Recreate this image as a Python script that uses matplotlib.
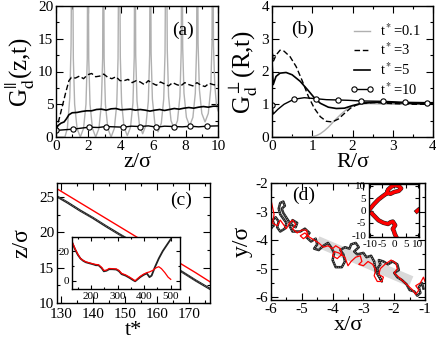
import numpy as np
import matplotlib
matplotlib.use('Agg')
import matplotlib.pyplot as plt
from matplotlib.ticker import MultipleLocator

plt.rcParams['font.family'] = ['Liberation Serif', 'DejaVu Serif']
plt.rcParams['mathtext.fontset'] = 'stix'
plt.rcParams['axes.unicode_minus'] = False

# ---- panel (a): G_d^par(z,t)
za_01 = [0.0, 0.55, 0.7, 0.85, 0.93, 1.0,
         1.07, 1.15, 1.3, 1.5, 1.7, 1.85, 1.93, 1.975,
         2.02, 2.1, 2.25, 2.45, 2.65, 2.8, 2.88, 2.925,
         2.97, 3.05, 3.2, 3.4, 3.6, 3.75, 3.83, 3.9,
         3.97, 4.05, 4.2, 4.4, 4.6, 4.75, 4.83, 4.875,
         4.92, 5.0, 5.15, 5.35, 5.55, 5.7, 5.78, 5.825,
         5.87, 5.95, 6.1, 6.3, 6.5, 6.65, 6.73, 6.8,
         6.87, 6.95, 7.1, 7.3, 7.5, 7.65, 7.73, 7.775,
         7.82, 7.9, 8.05, 8.25, 8.45, 8.6, 8.68, 8.725,
         8.77, 8.85, 9.0, 9.2, 9.4, 9.55, 9.63, 9.675,
         9.72, 9.8, 9.9, 10.0]
ga_01 = [0.0, 0.0, 1.3, 6.0, 14.0, 40,
         12, 5, 1.3, 0.0, 1.3, 5, 12, 40,
         12, 5, 1.3, 0.0, 1.3, 5, 12, 40,
         12, 5, 1.3, 0.0, 1.3, 5, 12, 40,
         12.2, 5.2, 1.5, 0.2, 1.5, 5.2, 12.2, 40,
         12.5, 5.5, 1.8, 0.5, 1.8, 5.5, 12.5, 40,
         12.8, 5.8, 2.1, 0.8, 2.1, 5.8, 12.8, 40,
         13.2, 6.2, 2.5, 1.2, 2.5, 6.2, 13.2, 40,
         13.7, 6.7, 3.0, 1.7, 3.0, 6.7, 13.7, 40,
         14.3, 7.3, 3.6, 2.3, 3.6, 7.3, 14.3, 40,
         14.0, 8.0, 5.0, 4.0]
za_3 = [0, 0.2, 0.4, 0.6, 0.8, 0.95, 1.2, 1.45, 1.7, 1.95, 2.2, 2.45, 2.7, 2.95,
        3.2, 3.45, 3.7, 3.95, 4.2, 4.45, 4.7, 4.95, 5.2, 5.45, 5.7, 5.95, 6.2,
        6.45, 6.7, 6.95, 7.2, 7.45, 7.7, 7.95, 8.2, 8.45, 8.7, 8.95, 9.2, 9.45,
        9.7, 10.0]
ga_3 = [1.0, 2.8, 4.8, 6.8, 8.6, 9.1, 9.0, 9.3, 8.9, 9.5, 9.7, 9.2, 9.3, 9.6,
        9.1, 8.9, 9.2, 8.6, 8.6, 8.8, 8.3, 8.6, 8.4, 8.0, 8.6, 8.2, 7.9,
        8.4, 8.1, 7.8, 8.3, 8.0, 7.8, 8.3, 8.0, 7.8, 8.3, 7.9, 7.7, 8.2,
        8.0, 7.9]
za_5 = [0, 0.15, 0.3, 0.5, 0.65, 0.8, 1.0, 1.3, 1.6, 1.9, 2.2, 2.5, 2.8, 3.1,
        3.4, 3.7, 4.0, 4.3, 4.6, 4.9, 5.2, 5.5, 5.8, 6.1, 6.4, 6.7, 7.0, 7.3,
        7.6, 7.9, 8.2, 8.5, 8.8, 9.1, 9.4, 9.7, 10.0]
ga_5 = [1.3, 1.8, 2.1, 2.3, 2.8, 3.4, 3.7, 3.75, 3.9, 4.0, 4.0, 4.2, 4.25, 4.1,
        4.3, 4.35, 4.15, 4.2, 4.25, 4.1, 4.2, 4.1, 3.95, 4.1, 4.2, 4.05, 4.2, 4.35,
        4.25, 4.4, 4.5, 4.4, 4.55, 4.65, 4.55, 4.7, 4.7]
za_10 = [0, 0.5, 1.07, 1.55, 2.05, 2.6, 3.1, 3.6, 4.15, 4.65, 5.18, 5.7, 6.2, 6.7,
         7.27, 7.8, 8.3, 8.8, 9.3, 10.0]
ga_10 = [1.0, 1.1, 1.2, 1.35, 1.5, 1.45, 1.6, 1.55, 1.5, 1.65, 1.6, 1.7, 1.5, 1.65,
         1.6, 1.55, 1.65, 1.55, 1.65, 1.7]
mk_a = [0, 2, 4, 6, 8, 10, 12, 14, 16, 18]

# ---- panel (b): G_d^perp(R,t)
rb_01 = [0, 0.9, 1.0, 1.1, 1.2, 1.3, 1.4, 1.5, 1.6, 1.7, 1.8, 1.9, 2.0, 2.1, 2.2,
         2.4, 2.7, 3.0, 4.0]
gb_01 = [0, 0, 0.01, 0.04, 0.1, 0.19, 0.3, 0.43, 0.56, 0.68, 0.79, 0.88, 0.94,
         0.98, 1.0, 1.02, 1.01, 1.0, 1.0]
rb_3 = [0, 0.03, 0.1, 0.2, 0.3, 0.45, 0.6, 0.75, 0.9, 1.05, 1.2, 1.35, 1.5, 1.65,
        1.8, 1.95, 2.1, 2.3, 2.6, 3.0, 3.5, 4.0]
gb_3 = [2.8, 2.3, 2.5, 2.65, 2.62, 2.45, 2.15, 1.72, 1.25, 0.88, 0.62, 0.48, 0.46,
        0.55, 0.72, 0.88, 0.98, 1.04, 1.05, 1.02, 1.0, 1.0]
rb_5 = [0, 0.03, 0.1, 0.2, 0.35, 0.5, 0.7, 0.9, 1.05, 1.2, 1.4, 1.6, 1.8, 2.0,
        2.2, 2.5, 2.8, 3.2, 3.6, 4.0]
gb_5 = [2.3, 1.6, 1.85, 1.95, 1.97, 1.9, 1.7, 1.42, 1.2, 1.03, 0.91, 0.87, 0.88,
        0.96, 1.02, 1.06, 1.06, 1.04, 1.02, 1.01]
rb_10 = [0, 0.03, 0.15, 0.3, 0.54, 0.8, 1.09, 1.35, 1.64, 1.9, 2.2, 2.75, 3.3,
         3.84, 4.0]
gb_10 = [0.97, 0.7, 0.85, 1.0, 1.15, 1.2, 1.17, 1.14, 1.13, 1.12, 1.1, 1.09, 1.06,
         1.05, 1.05]
mk_b = [0, 4, 6, 8, 10, 11, 12, 13]
labels_b = ['t$^*$=0.1', 't$^*$=3', 't$^*$=5', 't$^*$=10']

# ---- panel (c): z/sigma vs t*
tc = [128, 132, 136, 140, 144, 148, 152, 160, 168, 172, 176.5]
zc_black = [25.3, 24.25, 23.1, 22.05, 20.9, 19.8, 18.75, 16.5, 14.35, 13.2, 12.0]
zc_red = [26.4, 25.3, 24.2, 23.1, 22.0, 20.9, 19.8, 17.6, 15.4, 14.3, 13.0]
ti_black = [128, 140, 150, 160, 170, 180, 190, 200, 210, 218, 228, 240, 248, 258,
            268, 280, 295, 305, 315, 330, 345, 358, 366, 375, 385, 398, 410, 420,
            428, 440, 455, 470, 485, 500]
zi_black = [26, 21, 17.5, 15, 13.5, 12.5, 12, 11.5, 11, 10.5, 10.5, 8.5, 6.4, 6.8,
            7.8, 7.8, 7.6, 6.5, 4.5, 3.5, 2, 0.5, -0.3, 1, 2.5, 4, 5, 2.5,
            3.5, 9, 15, 20, 24, 28]
ti_red = [128, 140, 150, 160, 170, 180, 190, 200, 210, 218, 228, 240, 248, 258,
          268, 280, 295, 305, 315, 330, 345, 358, 366, 375, 385, 398, 410, 420,
          432, 445, 455, 465, 478, 490, 500]
zi_red = [26.5, 21.5, 18, 15, 13.8, 12.8, 12.3, 11.8, 11.3, 11, 10.8, 9, 7, 7.2,
          8.3, 8.2, 8, 7, 5, 4, 2.5, 1, 0, 1.5, 3, 4.5, 5.5, 6,
          7, 8.8, 9.5, 8.2, 5.5, 2.5, 1]

# ---- panel (d): trajectory in x-y plane
xd_black = [-6.0, -5.9, -5.95, -5.85, -5.75, -5.8, -5.7, -5.55, -5.5, -5.6, -5.7,
            -5.75, -5.7, -5.6, -5.55, -5.65, -5.6, -5.45, -5.35, -5.2, -5.15, -5.3,
            -5.4, -5.3, -5.05, -4.9, -4.75, -4.85, -4.7, -4.55, -4.5, -4.6, -4.45,
            -4.3, -4.15, -4.05, -3.95, -4.0, -3.9, -3.7, -3.6, -3.65, -3.75, -3.6,
            -3.45, -3.4, -3.25, -3.15, -3.3, -3.2, -3.0, -2.9, -2.75, -2.65, -2.6,
            -2.45, -2.4, -2.5, -2.55, -2.45, -2.5, -2.35, -2.2, -2.05, -1.9, -1.85,
            -2.0, -1.9, -1.75, -1.6, -1.5, -1.35, -1.25, -1.15, -1.2, -1.1, -1.05]
yd_black = [-3.6, -3.45, -3.3, -3.2, -3.35, -3.55, -3.7, -3.6, -3.4, -3.25, -3.1,
            -2.9, -2.7, -2.65, -2.8, -2.9, -3.05, -3.3, -3.45, -3.55, -3.4, -3.3,
            -3.5, -3.7, -3.7, -3.6, -3.75, -3.9, -4.05, -3.95, -4.15, -4.3, -4.35,
            -4.2, -4.1, -4.25, -4.45, -4.7, -4.95, -4.95, -4.75, -4.5, -4.35, -4.25,
            -4.3, -4.15, -4.1, -4.25, -4.4, -4.5, -4.45, -4.6, -4.55, -4.75, -5.1,
            -5.35, -5.45, -5.25, -5.0, -4.85, -4.7, -4.75, -4.85, -4.75, -4.85, -5.05,
            -5.15, -5.3, -5.4, -5.55, -5.75, -5.8, -5.95, -5.85, -5.65, -5.5, -5.7]
xd_red = [-6.0, -5.95, -5.9, -5.95, -5.8, -5.7, -5.6, -5.5, -5.4, -5.3, -5.2, -5.3,
          -5.15, -5.0, -4.85, -4.8, -4.95, -5.05, -4.9, -4.75, -4.6, -4.45, -4.3,
          -4.15, -4.0, -3.9, -3.75, -3.7, -3.85, -4.0, -3.95, -3.8, -3.6, -3.5, -3.4,
          -3.25, -3.1, -3.05, -3.15, -3.0, -2.85, -2.7, -2.6, -2.65, -2.55, -2.4,
          -2.35, -2.5, -2.45, -2.3, -2.1, -1.95, -1.9, -2.0, -1.85, -1.7, -1.55, -1.4,
          -1.3, -1.2, -1.3, -1.15, -1.05, -1.0]
yd_red = [-2.6, -2.85, -3.1, -3.4, -3.5, -3.3, -3.45, -3.6, -3.4, -3.3, -3.45, -3.6,
          -3.75, -3.65, -3.65, -3.85, -3.95, -3.85, -3.75, -3.9, -4.0, -4.1, -4.25,
          -4.2, -4.3, -4.2, -4.3, -4.5, -4.65, -4.55, -4.4, -4.45, -4.6, -4.9, -4.75,
          -4.6, -4.55, -4.75, -4.85, -4.9, -4.75, -4.85, -5.05, -5.25, -5.45, -5.45,
          -5.3, -5.2, -5.0, -4.85, -4.7, -4.8, -5.0, -5.15, -5.3, -5.45, -5.6, -5.75,
          -5.9, -5.75, -5.6, -5.5, -5.3, -5.45]
xd_band = [-4.5, -1.45]
yd_band = [-4.05, -5.45]
xi_red1 = [-10.2, -8.5, -6.5, -4.5, -3.0, -2.5, -1.0, 0.5, 2.0, 3.0, 2.0, 0.0, -1.5, -2.8]
yi_red1 = [0.5, 2.5, 4.5, 6.0, 7.0, 8.5, 9.8, 10.3, 10.0, 9.0, 8.0, 7.5, 6.8, 7.2]
xi_red2 = [-9.3, -8.0, -6.5, -4.5, -2.5, -1.5, -0.5, 0.5, -0.5, 0.0, 0.3, 0.8]
yi_red2 = [-1.2, -2.5, -4.0, -5.0, -5.5, -4.8, -4.5, -6.0, -7.5, -8.5, -9.5, -10.5]
xi_red3 = [9.6, 10.2]
yi_red3 = [-0.3, 0.2]

fig = plt.figure(figsize=(4.36, 3.44), dpi=100)
W, H = 436.0, 344.0


def box(l, t, r, b):
    return [l / W, 1 - b / H, (r - l) / W, (b - t) / H]


def style(ax, maj_x, min_x, maj_y, min_y, size=11, ml=5, nl=2.5):
    ax.xaxis.set_major_locator(MultipleLocator(maj_x))
    ax.xaxis.set_minor_locator(MultipleLocator(min_x))
    ax.yaxis.set_major_locator(MultipleLocator(maj_y))
    ax.yaxis.set_minor_locator(MultipleLocator(min_y))
    ax.tick_params(which='both', direction='in', top=True, right=True,
                   labelsize=size, width=0.8, pad=2)
    ax.tick_params(which='major', length=ml)
    ax.tick_params(which='minor', length=nl)
    for s in ax.spines.values():
        s.set_linewidth(1.0)


# (a)
ax = fig.add_axes(box(56, 6, 218, 137))
ax.plot(za_01, ga_01, color='#b0b0b0', lw=1.0)
ax.plot(za_3, ga_3, 'k--', lw=1.0, dashes=(4, 2))
ax.plot(za_5, ga_5, 'k-', lw=1.2)
ax.plot(za_10, ga_10, 'k-', lw=1.0, marker='o', ms=3.8, mfc='white', mec='k',
        mew=0.8, markevery=mk_a)
ax.set_xlim(0, 10)
ax.set_ylim(0, 20)
style(ax, 2, 1, 5, 2.5)
ax.set_xlabel('z/σ', fontsize=16, labelpad=0)
ax.set_ylabel(r'G$_\mathrm{d}^{||}$(z,t)', fontsize=18, labelpad=1)
ax.text(7.85, 16.3, '(a)', fontsize=14, ha='center', va='center')

# (b)
ax = fig.add_axes(box(272, 6, 433, 137))
ax.plot(rb_01, gb_01, color='#b0b0b0', lw=1.0, label=labels_b[0])
ax.plot(rb_3, gb_3, 'k--', lw=1.0, dashes=(4, 2), label=labels_b[1])
ax.plot(rb_5, gb_5, 'k-', lw=1.2, label=labels_b[2])
ax.plot(rb_10, gb_10, 'k-', lw=1.0, marker='o', ms=3.8, mfc='white', mec='k',
        mew=0.8, markevery=mk_b, label=labels_b[3])
ax.set_xlim(0, 4)
ax.set_ylim(0, 4)
style(ax, 1, 0.5, 1, 0.5)
ax.set_xlabel('R/σ', fontsize=16, labelpad=0)
ax.set_ylabel(r'G$_\mathrm{d}^{\perp}$(R,t)', fontsize=18, labelpad=1)
ax.text(0.75, 3.28, '(b)', fontsize=14, ha='center', va='center')
ax.legend(loc='upper left', bbox_to_anchor=(0.48, 0.875), frameon=False,
          fontsize=10.5, handlelength=1.7, handletextpad=0.4, labelspacing=0.2,
          borderpad=0, borderaxespad=0, numpoints=2)

# (c)
ax = fig.add_axes(box(57, 183, 210, 303))
ax.plot(tc, zc_red, color='red', lw=1.0)
ax.plot(tc, zc_black, color='#222222', lw=1.6)
ax.plot(tc, zc_black, color='#999999', lw=0.5, ls=':')
ax.set_xlim(128.8, 176.5)
ax.set_ylim(10, 27)
style(ax, 10, 5, 5, 2.5)
ax.tick_params(axis='x', pad=3.5)
ax.set_xlabel('t*', fontsize=16, labelpad=0)
ax.set_ylabel('z/σ', fontsize=17, labelpad=5)
ax.text(167.5, 24.5, '(c)', fontsize=14, ha='center', va='center')

axi = fig.add_axes(box(72, 237, 180, 289))
axi.plot(ti_black, zi_black, color='#222222', lw=1.3)
axi.plot(ti_red, zi_red, color='red', lw=0.9)
axi.set_xlim(128, 535)
axi.set_ylim(-5.5, 29.5)
style(axi, 100, 50, 20, 10, size=8, ml=3, nl=1.5)

# (d)
ax = fig.add_axes(box(271, 183, 425, 300))
ax.plot(xd_band, yd_band, color='#d9d9d9', lw=8, solid_capstyle='butt')
ax.plot(xd_black, yd_black, color='#222222', lw=1.8)
ax.plot(xd_black, yd_black, color='#aaaaaa', lw=0.6, ls=':')
ax.plot(xd_red, yd_red, color='red', lw=0.9)
ax.set_xlim(-6, -1)
ax.set_ylim(-6.1, -2)
style(ax, 1, 0.5, 1, 0.5)
ax.set_xlabel('x/σ', fontsize=16, labelpad=0)
ax.set_ylabel('y/σ', fontsize=17, labelpad=2)
ax.text(-4.95, -2.45, '(d)', fontsize=14, ha='center', va='center')

axi = fig.add_axes(box(369, 184, 419, 237))
for xs, ys in ((xi_red1, yi_red1), (xi_red2, yi_red2), (xi_red3, yi_red3)):
    axi.plot(xs, ys, color='#222222', lw=3.2)
    axi.plot(xs, ys, color='red', lw=2.4)
axi.set_xlim(-10.5, 10.5)
axi.set_ylim(-10.8, 10.8)
style(axi, 5, 5, 5, 5, size=8, ml=3, nl=3)

fig.savefig('out.png', dpi=100)
